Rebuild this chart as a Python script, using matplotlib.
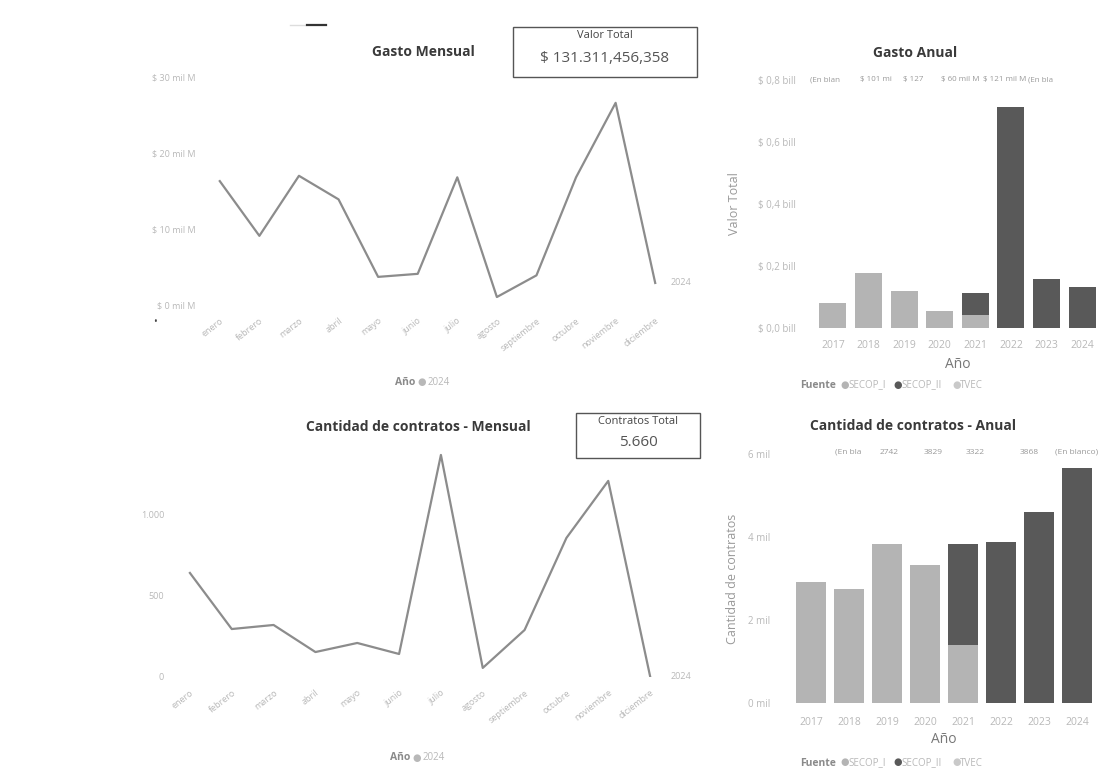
import matplotlib
matplotlib.use('Agg')
import matplotlib.pyplot as plt
from matplotlib.lines import Line2D
from matplotlib.ticker import FixedLocator

plt.rcParams['font.family'] = ['Open Sans', 'DejaVu Sans']

meses = ['enero', 'febrero', 'marzo', 'abril', 'mayo', 'junio', 'julio',
         'agosto', 'septiembre', 'octubre', 'noviembre', 'diciembre']
gasto_mensual = [16.3, 9.1, 17.0, 13.9, 3.7, 4.1, 16.8, 1.05, 3.9, 16.8, 26.6, 2.9]  # mil M
contratos_mensual = [642, 296, 321, 154, 210, 142, 1370, 56, 290, 858, 1210, 5]

anios = ['2017', '2018', '2019', '2020', '2021', '2022', '2023', '2024']
gasto_secop_i = [0.081, 0.177, 0.119, 0.055, 0.042, 0, 0, 0]  # bill
gasto_secop_ii = [0, 0, 0, 0, 0.071, 0.713, 0.158, 0.131]
contratos_secop_i = [2.92, 2.74, 3.83, 3.32, 1.40, 0, 0, 0]  # mil
contratos_secop_ii = [0, 0, 0, 0, 2.43, 3.87, 4.60, 5.66]

etiquetas_gasto = ['(En blan', '$ 101 mi', '$ 127', '$ 60 mil M', '$ 121 mil M', '(En bla']
etiquetas_contratos = ['(En bla', '2742', '3829', '3322', '3868', '(En blanco)']

W, H = 1107, 775
C_LINE = '#8c8c8c'
C_I = '#b4b4b4'
C_II = '#595959'
C_TVEC = '#c9c9c9'
C_TICK = '#b8b8b8'
C_TITLE = '#3a3a3a'

fig = plt.figure(figsize=(W / 100, H / 100), dpi=100)


def px_axes(x0, y0, x1, y1):
    # pixel box (top-left origin) -> axes
    return fig.add_axes([x0 / W, 1 - y1 / H, (x1 - x0) / W, (y1 - y0) / H])


def ftext(x, y, s, **kw):
    fig.text(x / W, 1 - y / H, s, **kw)


def clean(ax):
    for sp in ax.spines.values():
        sp.set_visible(False)
    ax.tick_params(length=0, colors=C_TICK, labelsize=6.5)


# little scan marks at the top
fig.add_artist(Line2D([290 / W, 305 / W], [1 - 25 / H] * 2, color='#dddddd', lw=1))
fig.add_artist(Line2D([307 / W, 326 / W], [1 - 25 / H] * 2, color='#333333', lw=1.6))
ftext(155, 323, '•', fontsize=7, color='#444444', ha='center', va='center')

# ---- Gasto Mensual
ax1 = px_axes(200, 77, 675, 305)
ax1.plot(range(12), gasto_mensual, color=C_LINE, lw=1.6)
ax1.set_xlim(-0.5, 11.5)
ax1.set_ylim(0, 30)
ax1.yaxis.set_major_locator(FixedLocator([0, 10, 20, 30]))
ax1.set_yticklabels(['$ 0 mil M', '$ 10 mil M', '$ 20 mil M', '$ 30 mil M'])
ax1.set_xticks(range(12))
ax1.set_xticklabels(meses, rotation=38, ha='right', rotation_mode='anchor')
clean(ax1)
ax1.tick_params(axis='x', pad=8)
ax1.text(11.4, gasto_mensual[-1], '2024', color=C_TICK, fontsize=6.5, va='center')

ftext(423, 52, 'Gasto Mensual', fontsize=10, fontweight='bold', color=C_TITLE, ha='center', va='center')
ftext(415, 383, 'Año', fontsize=7.5, fontweight='bold', color='#8a8a8a', ha='right', va='center')
ftext(422, 383, '●', fontsize=7, color=C_TICK, ha='center', va='center')
ftext(428, 383, '2024', fontsize=7, color=C_TICK, ha='left', va='center')

card1 = plt.Rectangle((513 / W, 1 - 77 / H), 184 / W, 50 / H, transform=fig.transFigure,
                      fill=False, edgecolor='#555555', lw=1)
fig.add_artist(card1)
ftext(605, 36, 'Valor Total', fontsize=8, color='#444444', ha='center', va='center')
ftext(605, 59, '$ 131.311,456,358', fontsize=11, color='#555555', ha='center', va='center')

# ---- Cantidad de contratos - Mensual
ax2 = px_axes(169, 442, 671, 677)
ax2.plot(range(12), contratos_mensual, color=C_LINE, lw=1.6)
ax2.set_xlim(-0.5, 11.5)
ax2.set_ylim(0, 1450)
ax2.yaxis.set_major_locator(FixedLocator([0, 500, 1000]))
ax2.set_yticklabels(['0', '500', '1.000'])
ax2.set_xticks(range(12))
ax2.set_xticklabels(meses, rotation=38, ha='right', rotation_mode='anchor')
clean(ax2)
ax2.tick_params(axis='x', pad=8)
ax2.text(11.5, contratos_mensual[-1], '2024', color=C_TICK, fontsize=6.5, va='center')

ftext(418, 427, 'Cantidad de contratos - Mensual', fontsize=10, fontweight='bold', color=C_TITLE,
      ha='center', va='center')
ftext(410, 758, 'Año', fontsize=7.5, fontweight='bold', color='#8a8a8a', ha='right', va='center')
ftext(417, 758, '●', fontsize=7, color=C_TICK, ha='center', va='center')
ftext(423, 758, '2024', fontsize=7, color=C_TICK, ha='left', va='center')

card2 = plt.Rectangle((576 / W, 1 - 458 / H), 124 / W, 45 / H, transform=fig.transFigure,
                      fill=False, edgecolor='#555555', lw=1)
fig.add_artist(card2)
ftext(638, 421, 'Contratos Total', fontsize=8, color='#444444', ha='center', va='center')
ftext(638, 442, '5.660', fontsize=11, color='#555555', ha='center', va='center')


# ---- bar charts
def legend_fuente(y):
    ftext(800, y, 'Fuente', fontsize=7.5, fontweight='bold', color='#8a8a8a', ha='left', va='center')
    items = [('SECOP_I', C_I), ('SECOP_II', C_II), ('TVEC', C_TVEC)]
    x = 840
    for name, col in items:
        ftext(x, y, '●', fontsize=7, color=col, ha='left', va='center')
        ftext(x + 8, y, name, fontsize=7, color=C_TICK, ha='left', va='center')
        x += 8 + len(name) * 5.6 + 6


xs = range(len(anios))

ax3 = px_axes(815, 80, 1100, 328)
ax3.bar(xs, gasto_secop_i, width=0.76, color=C_I)
ax3.bar(xs, gasto_secop_ii, width=0.76, bottom=gasto_secop_i, color=C_II)
ax3.set_xlim(-0.5, 7.5)
ax3.set_ylim(0, 0.8)
ax3.yaxis.set_major_locator(FixedLocator([0, 0.2, 0.4, 0.6, 0.8]))
ax3.set_yticklabels(['$ 0,0 bill', '$ 0,2 bill', '$ 0,4 bill', '$ 0,6 bill', '$ 0,8 bill'])
ax3.set_xticks(list(xs))
ax3.set_xticklabels(anios)
clean(ax3)
ax3.tick_params(axis='x', labelsize=7.5, pad=9)
ax3.tick_params(axis='y', labelsize=7, pad=14)
ax3.set_xlabel('Año', fontsize=10, color='#777777', labelpad=4)
ax3.set_ylabel('Valor Total', fontsize=9, color='#999999', labelpad=12)
ftext(915, 53, 'Gasto Anual', fontsize=10, fontweight='bold', color=C_TITLE, ha='center', va='center')
for s, x in zip(etiquetas_gasto, [810, 860, 903, 941, 983, 1028]):
    ftext(x, 80, s, fontsize=5.8, color='#9a9a9a', ha='left', va='center')
legend_fuente(385)

ax4 = px_axes(792, 454, 1096, 703)
ax4.bar(xs, contratos_secop_i, width=0.8, color=C_I)
ax4.bar(xs, contratos_secop_ii, width=0.8, bottom=contratos_secop_i, color=C_II)
ax4.set_xlim(-0.5, 7.5)
ax4.set_ylim(0, 6)
ax4.yaxis.set_major_locator(FixedLocator([0, 2, 4, 6]))
ax4.set_yticklabels(['0 mil', '2 mil', '4 mil', '6 mil'])
ax4.set_xticks(list(xs))
ax4.set_xticklabels(anios)
clean(ax4)
ax4.tick_params(axis='x', labelsize=7.5, pad=10)
ax4.tick_params(axis='y', labelsize=7, pad=16)
ax4.set_xlabel('Año', fontsize=10, color='#777777', labelpad=3)
ax4.set_ylabel('Cantidad de contratos', fontsize=9, color='#999999', labelpad=6)
ftext(913, 426, 'Cantidad de contratos - Anual', fontsize=10, fontweight='bold', color=C_TITLE,
      ha='center', va='center')
for s, x in zip(etiquetas_contratos, [835, 880, 924, 966, 1020, 1055]):
    ftext(x, 452, s, fontsize=6, color='#9a9a9a', ha='left', va='center')
legend_fuente(763)

fig.savefig('out.png', dpi=100, facecolor='white')
